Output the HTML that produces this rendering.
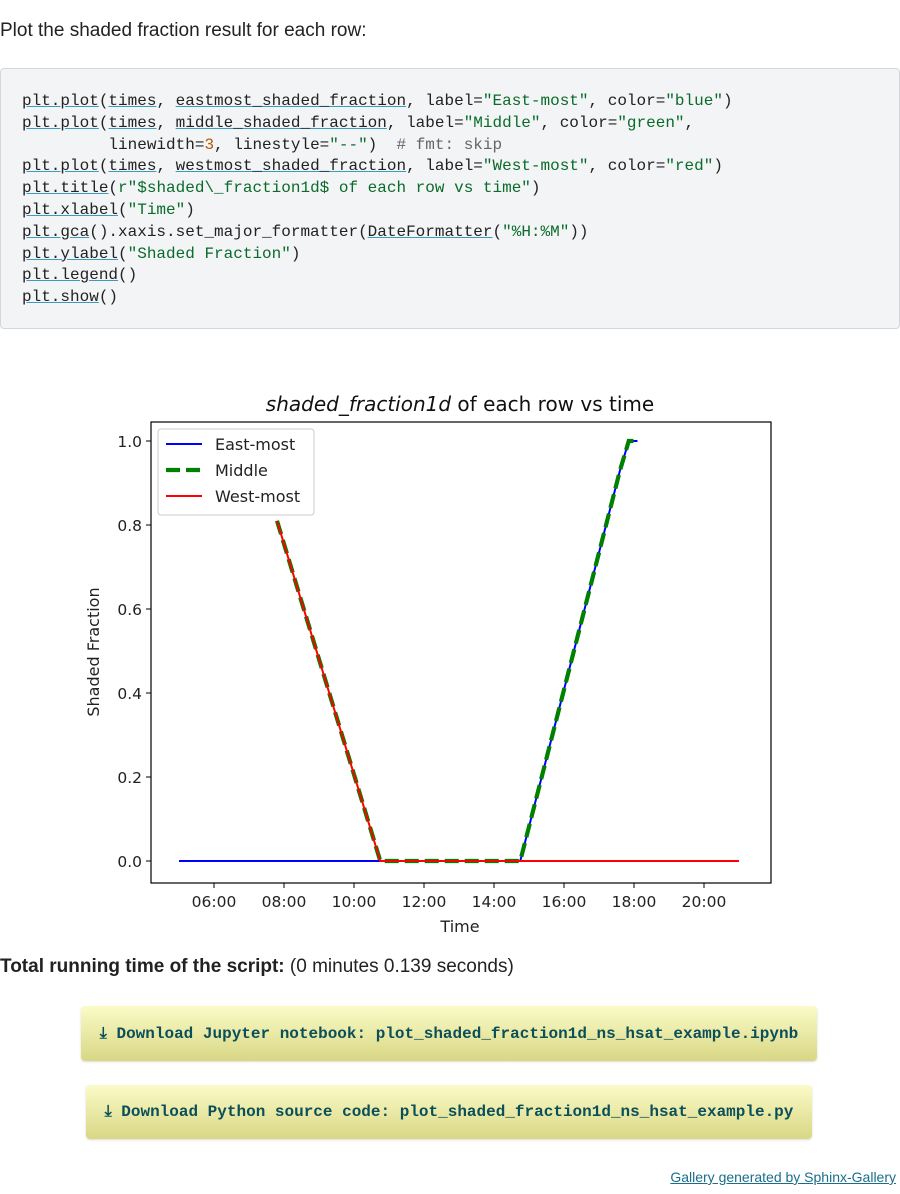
<!DOCTYPE html>
<html><head><meta charset="utf-8"><style>
body{margin:0;width:900px;height:1194px;background:#fff;font-family:"Liberation Sans",sans-serif;color:#222;position:relative;overflow:hidden}
.p{position:absolute;left:0;top:20px;font-size:19px;margin:0}
.code{position:absolute;left:0;top:68px;width:898px;height:259px;background:#f3f4f6;border:1px solid #d5d7da;border-radius:4px}
.code pre{margin:0;position:absolute;left:21px;top:22px;font-family:"Liberation Mono",monospace;font-size:16px;line-height:21.8px;color:#222}
.u{text-decoration:underline;text-decoration-color:#3a9cb8}
.s{color:#0a6b2a}.n{color:#b35a00}.c{color:#666}
.run{position:absolute;left:0;top:956px;font-size:19px}
.btn{position:absolute;background:linear-gradient(#fbfbc8,#d8d784);border-radius:4px;font-family:"Liberation Mono",monospace;font-weight:bold;font-size:16px;color:#0b4f5a;display:flex;align-items:center;justify-content:center;box-shadow:0 1px 2px rgba(0,0,0,.15)}
.foot{position:absolute;right:4px;top:1169px;font-size:14px;color:#1a6e8a;text-decoration:underline}
</style></head><body>
<p class="p">Plot the shaded fraction result for each row:</p>
<div class="code"><pre><span class="u">plt.plot</span>(<span class="u">times</span>, <span class="u">eastmost_shaded_fraction</span>, label=<span class="s">"East-most"</span>, color=<span class="s">"blue"</span>)
<span class="u">plt.plot</span>(<span class="u">times</span>, <span class="u">middle_shaded_fraction</span>, label=<span class="s">"Middle"</span>, color=<span class="s">"green"</span>,
         linewidth=<span class="n">3</span>, linestyle=<span class="s">"--"</span>)  <span class="c"># fmt: skip</span>
<span class="u">plt.plot</span>(<span class="u">times</span>, <span class="u">westmost_shaded_fraction</span>, label=<span class="s">"West-most"</span>, color=<span class="s">"red"</span>)
<span class="u">plt.title</span>(<span class="s">r"$shaded\_fraction1d$ of each row vs time"</span>)
<span class="u">plt.xlabel</span>(<span class="s">"Time"</span>)
<span class="u">plt.gca</span>().xaxis.set_major_formatter(<span class="u">DateFormatter</span>(<span class="s">"%H:%M"</span>))
<span class="u">plt.ylabel</span>(<span class="s">"Shaded Fraction"</span>)
<span class="u">plt.legend</span>()
<span class="u">plt.show</span>()</pre></div>

<svg id="chart" style="position:absolute;left:0;top:380px" width="900" height="560" font-family="'DejaVu Sans',sans-serif">
<g id="g"></g>
</svg>

<div class="run"><b>Total running time of the script:</b> (0 minutes 0.139 seconds)</div>
<div class="btn" style="left:81px;top:1006px;width:736px;height:55px">⤓ Download Jupyter notebook: plot_shaded_fraction1d_ns_hsat_example.ipynb</div>
<div class="btn" style="left:86px;top:1085px;width:726px;height:54px">⤓ Download Python source code: plot_shaded_fraction1d_ns_hsat_example.py</div>
<div class="foot">Gallery generated by Sphinx-Gallery</div>

<script>
const eastTimes=[5,14.75,17.6,17.85,18.1];
const eastVals=[0,0,0.93,1.0,1.0];
const middleTimes=[7.8,10.75,14.75,17.6,17.85,18.0];
const middleVals=[0.81,0,0,0.93,1.0,1.0];
const westTimes=[7.8,10.75,21];
const westVals=[0.81,0,0];
const xTicks=[6,8,10,12,14,16,18,20];
const xTickLabels=["06:00","08:00","10:00","12:00","14:00","16:00","18:00","20:00"];
const yTicks=[0,0.2,0.4,0.6,0.8,1.0];
const yTickLabels=["0.0","0.2","0.4","0.6","0.8","1.0"];

const OY=380;
const X=h=>214+35*(h-6);
const Y=v=>861-420*v-OY;
const g=document.getElementById('g');
const NS='http://www.w3.org/2000/svg';
function mk(t,a,p){const e=document.createElementNS(NS,t);for(const k in a)e.setAttribute(k,a[k]);(p||g).appendChild(e);return e;}

const L=151,R=771,T=422-OY,B=883-OY;
const frame=mk('rect',{x:L,y:T,width:R-L,height:B-T,fill:'#fff',stroke:'#000','stroke-width':1.2});



xTicks.forEach((t,i)=>{
  const tk=mk('line',{x1:X(t),x2:X(t),y1:B,y2:B+5,stroke:'#000'});
  
  
  const tx=mk('text',{x:X(t),y:B+24,'text-anchor':'middle','font-size':15.5,fill:'#222'});
  tx.textContent=xTickLabels[i];
  
  
});
yTicks.forEach((t,i)=>{
  const tk=mk('line',{x1:L-5,x2:L,y1:Y(t),y2:Y(t),stroke:'#000'});
  
  
  const tx=mk('text',{x:L-9,y:Y(t)+6,'text-anchor':'end','font-size':15.5,fill:'#222'});
  tx.textContent=yTickLabels[i];
  
  
});

function line(ts,vs,attrs,name){
  const pts=ts.map((t,i)=>X(t)+','+Y(vs[i])).join(' ');
  const e=mk('polyline',Object.assign({points:pts,fill:'none'},attrs));
  
  
}
line(eastTimes,eastVals,{stroke:'#0000ff','stroke-width':2},'east-most-line');
line(middleTimes,middleVals,{stroke:'#008000','stroke-width':4.2,'stroke-dasharray':'14 6'},'middle-line');
line(westTimes,westVals,{stroke:'#ff0000','stroke-width':2},'west-most-line');

const title=mk('text',{x:460,y:31,'text-anchor':'middle','font-size':20,fill:'#111'});
title.innerHTML='<tspan font-style="italic">shaded_fraction1d</tspan> of each row vs time';


const xl=mk('text',{x:460,y:552,'text-anchor':'middle','font-size':16,fill:'#222'});
xl.textContent='Time';


const yl=mk('text',{x:0,y:0,'text-anchor':'middle','font-size':16,fill:'#222',transform:'translate(99,272) rotate(-90)'});
yl.textContent='Shaded Fraction';



const lg=mk('g',{});


mk('rect',{x:158,y:429-OY,width:156,height:86,rx:3,fill:'#fff',stroke:'#ccc'},lg);
const items=[['East-most','#0000ff',2,''],['Middle','#008000',4.2,'14 6'],['West-most','#ff0000',2,'']];
items.forEach((it,i)=>{
  const y=444-OY+26*i;
  const ln=mk('line',{x1:166,x2:202,y1:y,y2:y,stroke:it[1],'stroke-width':it[2],'stroke-dasharray':it[3]},lg);
  
  
  const tx=mk('text',{x:215,y:y+6,'font-size':16,fill:'#222'},lg);
  tx.textContent=it[0];
  
  
});
</script>
</body></html>
